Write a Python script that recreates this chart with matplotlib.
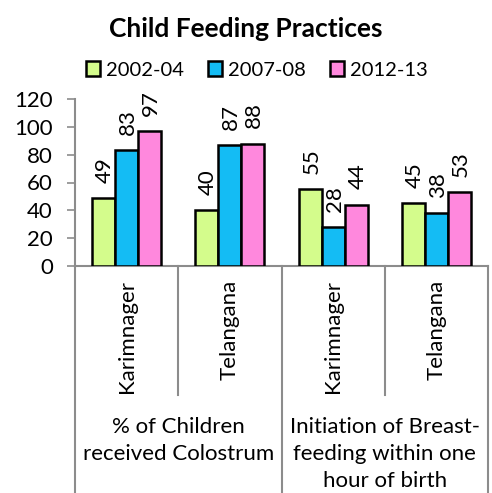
import numpy as np
import matplotlib
matplotlib.use("Agg")
import matplotlib.pyplot as plt
import matplotlib.transforms as mtransforms

plt.rcParams['font.family'] = ['Lato', 'DejaVu Sans']

title = "Child Feeding Practices"
series_names = ["2002-04", "2007-08", "2012-13"]
districts = ["Karimnager", "Telangana", "Karimnager", "Telangana"]
groups = ["% of Children\nreceived Colostrum",
          "Initiation of Breast-\nfeeding within one\nhour of birth"]
vals_2002 = [49, 40, 55, 45]
vals_2007 = [83, 87, 28, 38]
vals_2012 = [97, 88, 44, 53]
yticks = [0, 20, 40, 60, 80, 100, 120]

colors = ["#D4FC8C", "#14BCF4", "#FF88DD"]
grey = "#8C8C8C"
fs = 16

fig = plt.figure(figsize=(4.92, 4.93), dpi=100)
ax = fig.add_axes([75 / 492, 1 - 266 / 493, 413 / 492, 167 / 493])

x = np.arange(len(districts))
w = 0.223
series = [vals_2002, vals_2007, vals_2012]
for k, (vals, name, c) in enumerate(zip(series, series_names, colors)):
    pos = x + (k - 1) * w
    ax.bar(pos, vals, width=w, color=c, edgecolor="black", linewidth=1.8,
           label=name, zorder=3)
    for px, v in zip(pos, vals):
        ax.annotate(str(v), (px, v), xytext=(1, 11), textcoords="offset points",
                    rotation=90, ha="center", va="bottom", fontsize=fs)

ax.set_xlim(-0.5, len(districts) - 0.5)
ax.set_ylim(0, 120)
ax.set_yticks(yticks)
ax.tick_params(axis="y", length=6, color=grey, width=1.2, labelsize=fs, pad=10)
ax.set_xticks([])
for s in ["top", "right"]:
    ax.spines[s].set_visible(False)
for s in ["left", "bottom"]:
    ax.spines[s].set_color(grey)
    ax.spines[s].set_linewidth(1.5)

# multi-level category axis
trans = mtransforms.blended_transform_factory(ax.transData, ax.transAxes)
h_ax = 167.0
for b in [-0.5, 1.5, 3.5]:
    ax.plot([b, b], [0, -227 / h_ax], transform=trans, color=grey,
            lw=1.5, clip_on=False)
for b in [0.5, 2.5]:
    ax.plot([b, b], [0, -129 / h_ax], transform=trans, color=grey,
            lw=1.5, clip_on=False)
for xi, name in zip(x, districts):
    ax.text(xi, -14 / h_ax, name, transform=trans, rotation=90,
            ha="center", va="top", fontsize=fs)
for gi, g in enumerate(groups):
    ax.text(gi * 2 + 0.5, -151 / h_ax, g, transform=trans, ha="center",
            va="top", fontsize=fs, linespacing=1.45)

fig.suptitle(title, fontsize=19, fontweight="bold", y=1 - 29 / 493, va="center")
fig.legend(loc="center", bbox_to_anchor=(0.522, 1 - 70 / 493), ncol=3,
           frameon=False, fontsize=14.5, handlelength=0.7, handleheight=0.7,
           handletextpad=0.3, columnspacing=1.2, borderaxespad=0)

fig.savefig("out.png", dpi=100)
